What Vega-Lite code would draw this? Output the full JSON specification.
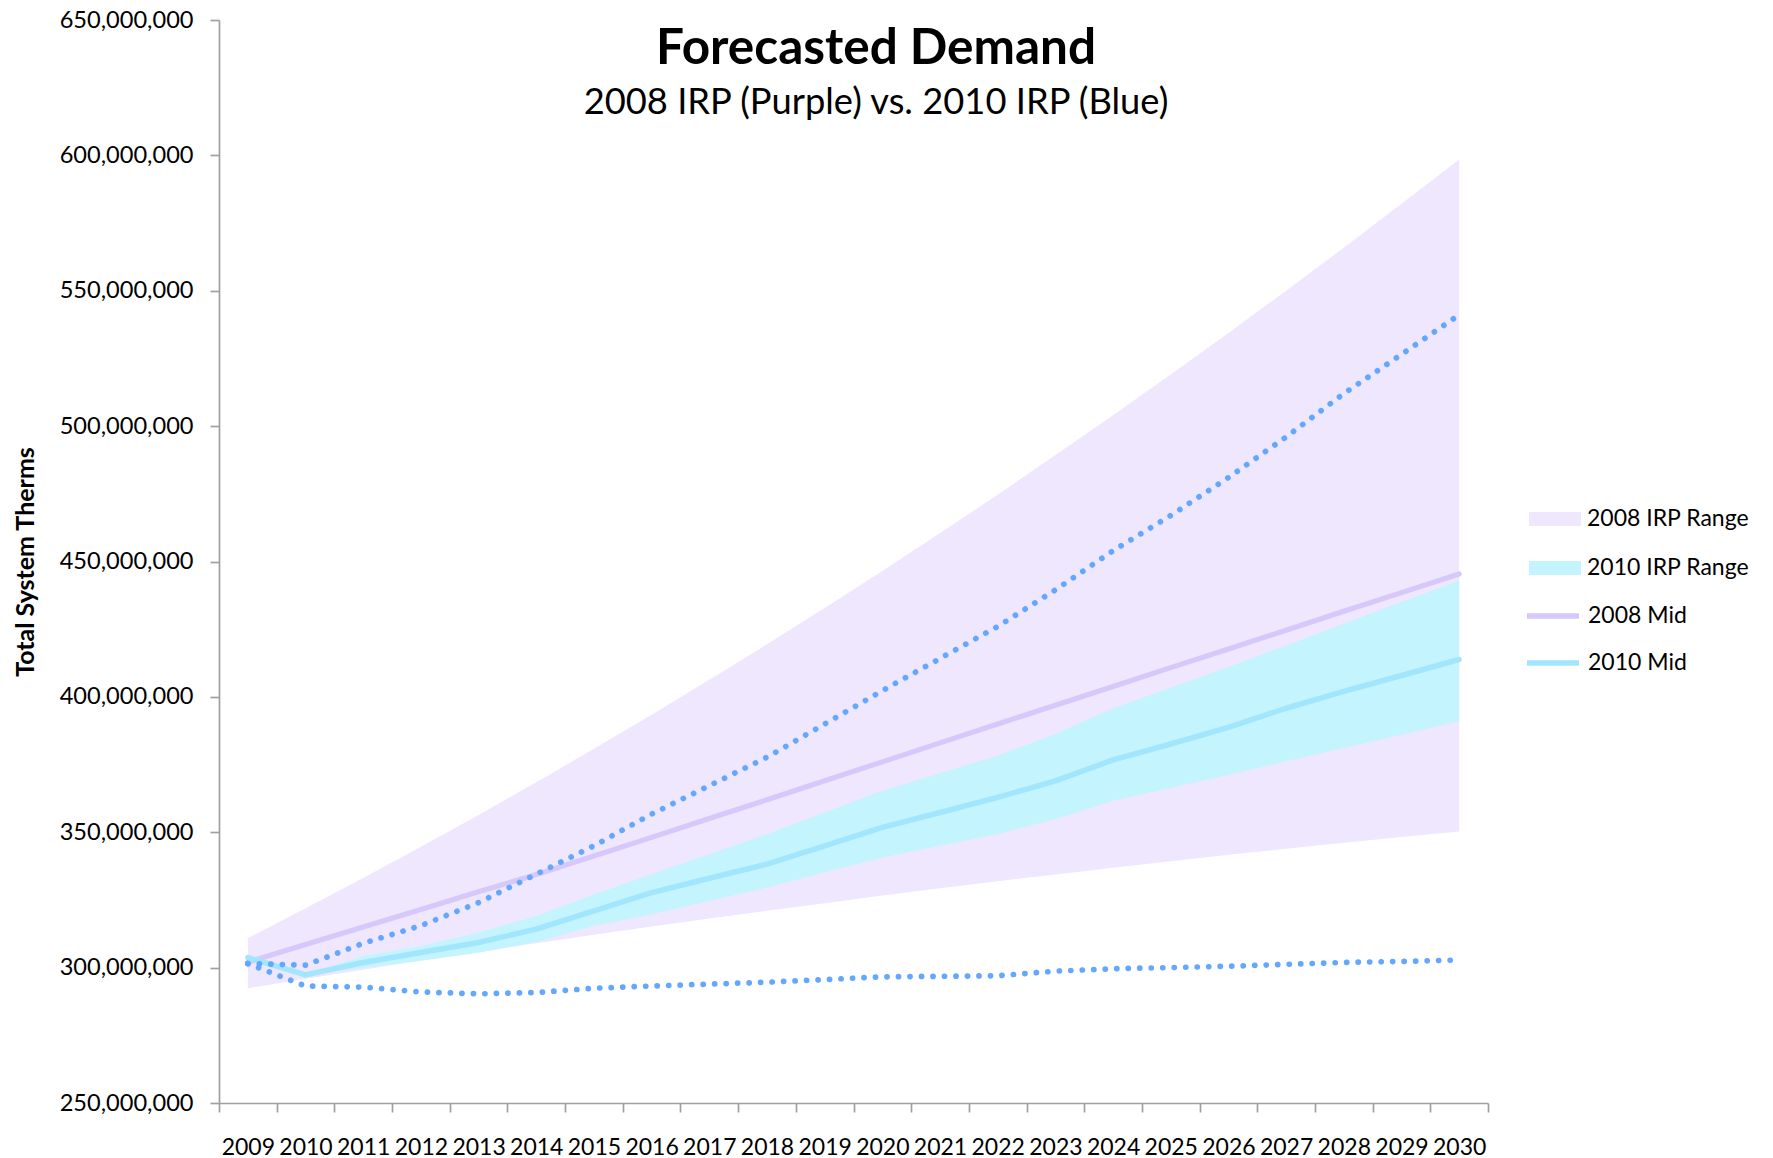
{
  "$schema": "https://vega.github.io/schema/vega-lite/v6.json",
  "width": 1269,
  "height": 1083,
  "autosize": {"type": "none"},
  "padding": {"left": 219, "top": 20, "right": 285, "bottom": 55},
  "background": "white",
  "config": {"view": {"stroke": null}, "font": "Lato"},
  "title": {
    "text": "Forecasted Demand",
    "subtitle": "2008 IRP (Purple) vs. 2010 IRP (Blue)",
    "font": "Lato",
    "fontSize": 49.5,
    "fontWeight": "bold",
    "color": "#000000",
    "subtitleFont": "Lato",
    "subtitleFontSize": 36.3,
    "subtitleFontWeight": "normal",
    "subtitleColor": "#000000",
    "subtitlePadding": 11,
    "anchor": "middle",
    "frame": "group",
    "dx": 22.5,
    "offset": -114.5
  },
  "data": {
    "values": [
      {"year": 2009, "hi08": 310900000, "lo08": 292400000, "mid08": 302000000, "hi10": 303700000, "lo10": 303700000, "mid10": 303700000, "dhi": 301500000, "dlo": 301500000},
      {"year": 2010, "hi08": 321900000, "lo08": 295900000, "mid08": 308500000, "hi10": 297300000, "lo10": 297300000, "mid10": 297300000, "dhi": 300900000, "dlo": 293200000},
      {"year": 2011, "hi08": 333100000, "lo08": 299200000, "mid08": 315000000, "hi10": 304300000, "lo10": 300000000, "mid10": 301900000, "dhi": 309000000, "dlo": 292800000},
      {"year": 2012, "hi08": 344600000, "lo08": 302600000, "mid08": 321500000, "hi10": 308000000, "lo10": 302500000, "mid10": 305600000, "dhi": 315500000, "dlo": 291000000},
      {"year": 2013, "hi08": 356400000, "lo08": 305800000, "mid08": 328000000, "hi10": 313000000, "lo10": 305500000, "mid10": 309300000, "dhi": 324000000, "dlo": 290300000},
      {"year": 2014, "hi08": 368500000, "lo08": 309000000, "mid08": 334400000, "hi10": 319000000, "lo10": 309500000, "mid10": 314200000, "dhi": 334500000, "dlo": 290800000},
      {"year": 2015, "hi08": 380800000, "lo08": 312100000, "mid08": 341200000, "hi10": 327000000, "lo10": 315500000, "mid10": 321000000, "dhi": 345000000, "dlo": 292400000},
      {"year": 2016, "hi08": 393400000, "lo08": 315200000, "mid08": 348100000, "hi10": 334500000, "lo10": 319700000, "mid10": 327700000, "dhi": 356700000, "dlo": 293200000},
      {"year": 2017, "hi08": 406300000, "lo08": 318100000, "mid08": 355100000, "hi10": 341900000, "lo10": 324600000, "mid10": 333000000, "dhi": 367200000, "dlo": 293900000},
      {"year": 2018, "hi08": 419400000, "lo08": 321000000, "mid08": 362000000, "hi10": 349300000, "lo10": 329600000, "mid10": 338200000, "dhi": 377700000, "dlo": 294600000},
      {"year": 2019, "hi08": 432800000, "lo08": 323800000, "mid08": 369000000, "hi10": 357300000, "lo10": 335200000, "mid10": 345000000, "dhi": 390000000, "dlo": 295600000},
      {"year": 2020, "hi08": 446500000, "lo08": 326600000, "mid08": 376000000, "hi10": 365300000, "lo10": 340700000, "mid10": 351800000, "dhi": 402300000, "dlo": 296600000},
      {"year": 2021, "hi08": 460500000, "lo08": 329300000, "mid08": 383000000, "hi10": 371800000, "lo10": 345000000, "mid10": 357300000, "dhi": 414200000, "dlo": 296800000},
      {"year": 2022, "hi08": 474700000, "lo08": 331900000, "mid08": 390000000, "hi10": 378300000, "lo10": 349300000, "mid10": 362900000, "dhi": 426000000, "dlo": 297000000},
      {"year": 2023, "hi08": 489300000, "lo08": 334400000, "mid08": 396900000, "hi10": 386300000, "lo10": 354900000, "mid10": 369000000, "dhi": 439500000, "dlo": 298700000},
      {"year": 2024, "hi08": 504000000, "lo08": 336900000, "mid08": 403800000, "hi10": 395800000, "lo10": 361600000, "mid10": 376700000, "dhi": 454000000, "dlo": 299600000},
      {"year": 2025, "hi08": 519100000, "lo08": 339300000, "mid08": 410800000, "hi10": 403400000, "lo10": 366400000, "mid10": 382600000, "dhi": 467000000, "dlo": 300000000},
      {"year": 2026, "hi08": 534400000, "lo08": 341700000, "mid08": 417700000, "hi10": 411000000, "lo10": 371200000, "mid10": 388700000, "dhi": 481000000, "dlo": 300500000},
      {"year": 2027, "hi08": 550000000, "lo08": 343900000, "mid08": 424600000, "hi10": 419000000, "lo10": 376200000, "mid10": 395800000, "dhi": 496000000, "dlo": 301200000},
      {"year": 2028, "hi08": 565900000, "lo08": 346100000, "mid08": 431600000, "hi10": 427000000, "lo10": 381100000, "mid10": 402000000, "dhi": 512000000, "dlo": 301900000},
      {"year": 2029, "hi08": 582100000, "lo08": 348200000, "mid08": 438500000, "hi10": 435000000, "lo10": 386000000, "mid10": 407900000, "dhi": 526500000, "dlo": 302300000},
      {"year": 2030, "hi08": 598500000, "lo08": 350300000, "mid08": 445400000, "hi10": 443000000, "lo10": 391000000, "mid10": 413800000, "dhi": 541100000, "dlo": 302800000}
    ]
  },
  "encoding": {
    "x": {
      "field": "year",
      "type": "quantitative",
      "scale": {"domain": [2008.5, 2030.5], "nice": false, "zero": false},
      "axis": {
        "title": null,
        "grid": false,
        "values": [2008.5, 2009.5, 2010.5, 2011.5, 2012.5, 2013.5, 2014.5, 2015.5, 2016.5, 2017.5, 2018.5, 2019.5, 2020.5, 2021.5, 2022.5, 2023.5, 2024.5, 2025.5, 2026.5, 2027.5, 2028.5, 2029.5, 2030.5],
        "labelExpr": "datum.value < 2030 ? toString(datum.value + 0.5) : ''",
        "labelOffset": 28.84,
        "labelOverlap": false,
        "labelBound": false,
        "labelFlush": false,
        "labelAlign": "center",
        "labelFont": "Lato",
        "labelFontSize": 23,
        "labelColor": "#000000",
        "labelPadding": 24,
        "domainColor": "#A0A0A0",
        "domainWidth": 1.7,
        "tickColor": "#A0A0A0",
        "tickWidth": 1.7,
        "tickSize": 9
      }
    }
  },
  "layer": [
    {
      "mark": {"type": "area", "opacity": 1, "interpolate": "linear"},
      "encoding": {
        "y": {
          "field": "hi08",
          "type": "quantitative",
          "title": "Total System Therms",
          "scale": {"domain": [250000000, 650000000], "nice": false, "zero": false},
          "axis": {
            "title": "Total System Therms",
            "grid": false,
            "values": [250000000, 300000000, 350000000, 400000000, 450000000, 500000000, 550000000, 600000000, 650000000],
            "format": ",d",
            "labelFont": "Lato",
            "labelFontSize": 23.6,
            "labelColor": "#000000",
            "labelPadding": 17,
            "domainColor": "#A0A0A0",
            "domainWidth": 1.7,
            "tickColor": "#A0A0A0",
            "tickWidth": 1.7,
            "tickSize": 9,
            "titleFont": "Lato",
            "titleFontSize": 25,
            "titleFontWeight": "bold",
            "titleColor": "#000000",
            "titlePadding": 21
          }
        },
        "y2": {"field": "lo08"},
        "fill": {
          "datum": "2008 IRP Range",
          "type": "nominal",
          "scale": {"domain": ["2008 IRP Range", "2010 IRP Range"], "range": ["#EFE7FD", "#C4F4FD"]},
          "legend": {
            "orient": "none",
            "legendX": 1310,
            "legendY": 473,
            "title": null,
            "padding": 0,
            "symbolType": "M-1,-0.27H1V0.27H-1Z",
            "symbolSize": 2704,
            "symbolStrokeWidth": 0,
            "symbolOpacity": 1,
            "labelFont": "Lato",
            "labelFontSize": 23,
            "labelColor": "#000000",
            "labelOffset": 6,
            "labelLimit": 400,
            "rowPadding": 11
          }
        }
      }
    },
    {
      "mark": {"type": "area", "opacity": 1, "interpolate": "linear"},
      "encoding": {
        "y": {"field": "hi10", "type": "quantitative", "title": "Total System Therms"},
        "y2": {"field": "lo10"},
        "fill": {"datum": "2010 IRP Range", "type": "nominal"}
      }
    },
    {
      "mark": {"type": "line", "strokeWidth": 5.2, "strokeCap": "round", "strokeJoin": "round"},
      "encoding": {
        "y": {"field": "mid08", "type": "quantitative", "title": "Total System Therms"},
        "stroke": {
          "datum": "2008 Mid",
          "type": "nominal",
          "scale": {"domain": ["2008 Mid", "2010 Mid"], "range": ["#D6C8FA", "#A2E6FE"]},
          "legend": {
            "orient": "none",
            "legendX": 1305,
            "legendY": 567,
            "title": null,
            "padding": 0,
            "symbolType": "stroke",
            "symbolSize": 2704,
            "symbolStrokeWidth": 5.5,
            "symbolOpacity": 1,
            "labelFont": "Lato",
            "labelFontSize": 23,
            "labelColor": "#000000",
            "labelOffset": 6,
            "labelLimit": 400,
            "rowPadding": 6
          }
        }
      }
    },
    {
      "mark": {"type": "line", "strokeWidth": 5.5, "strokeCap": "round", "strokeJoin": "round"},
      "encoding": {
        "y": {"field": "mid10", "type": "quantitative", "title": "Total System Therms"},
        "stroke": {"datum": "2010 Mid", "type": "nominal"}
      }
    },
    {
      "mark": {"type": "line", "stroke": "#63A7FF", "strokeWidth": 5.7, "strokeCap": "round", "strokeDash": [0.1, 11.4]},
      "encoding": {
        "y": {"field": "dhi", "type": "quantitative", "title": "Total System Therms"}
      }
    },
    {
      "mark": {"type": "line", "stroke": "#63A7FF", "strokeWidth": 5.7, "strokeCap": "round", "strokeDash": [0.1, 11.4]},
      "encoding": {
        "y": {"field": "dlo", "type": "quantitative", "title": "Total System Therms"}
      }
    }
  ]
}
